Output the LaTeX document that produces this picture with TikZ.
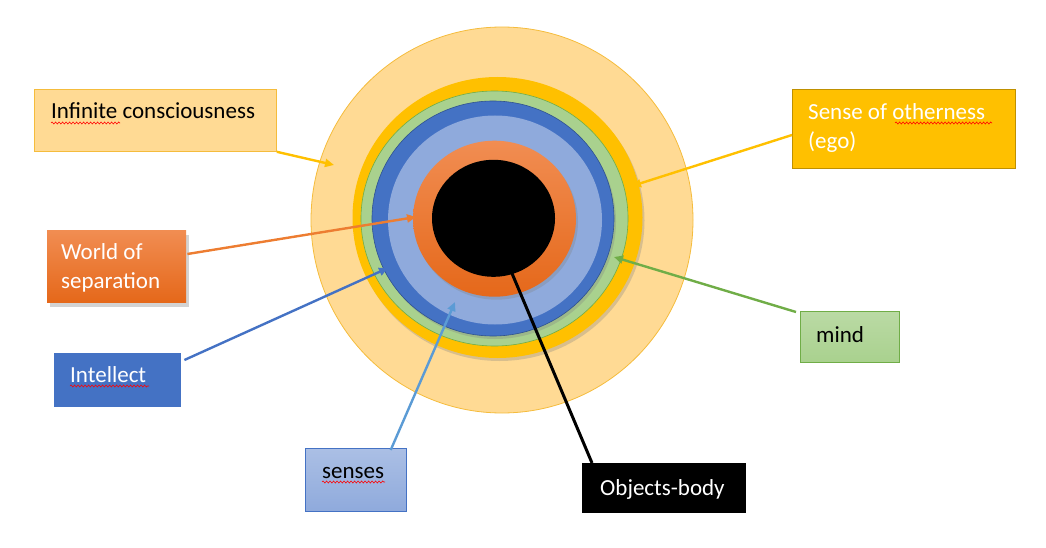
\documentclass[tikz,border=0pt]{standalone}
\usepackage{fontspec}
\setmainfont{Carlito}
\usetikzlibrary{shapes.geometric,arrows.meta,calc,shadows,decorations.pathmorphing}
\definecolor{outerfill}{HTML}{FFDA94}
\definecolor{outerdraw}{HTML}{F5BC3C}
\definecolor{gold}{HTML}{FFC000}
\definecolor{golddark}{HTML}{BF9000}
\definecolor{grn}{HTML}{A9D18E}
\definecolor{grndark}{HTML}{70AD47}
\definecolor{blu}{HTML}{4472C4}
\definecolor{bludark}{HTML}{2F528F}
\definecolor{lblu}{HTML}{8FAADC}
\definecolor{orgtop}{HTML}{F18D52}
\definecolor{orgbot}{HTML}{E5681A}
\definecolor{orgline}{HTML}{ED7D31}
\definecolor{skyline}{HTML}{5B9BD5}
\tikzset{
  ring/.style={ellipse, inner sep=0pt},
  box/.style={rectangle, inner sep=0pt, anchor=north west},
  txt/.style={anchor=base west, inner sep=0pt, font=\fontsize{23}{27}\selectfont},
  conn/.style={line width=2.4pt, -{Triangle[length=9pt,width=8pt]}},
  squig/.style={red, line width=0.6pt, decorate, decoration={snake, amplitude=1pt, segment length=3.5pt}},
  shade/.style={drop shadow={opacity=0.3, shadow xshift=2pt, shadow yshift=-3pt}}
}
\begin{document}
\begin{tikzpicture}[x=1pt,y=-1pt]
\useasboundingbox (0,0) rectangle (1046,548);
% rings
\node[ring, fill=outerfill, draw=outerdraw, line width=0.8pt, minimum width=382pt, minimum height=386pt] (outer) at (502,220) {};
\node[ring, fill=gold, shade, minimum width=290pt, minimum height=281pt] (ego) at (497.5,217.5) {};
\node[ring, fill=grn, draw=grndark, line width=0.6pt, minimum width=267pt, minimum height=255pt] (mindr) at (494.5,218.5) {};
\node[ring, fill=blu, draw=bludark, line width=0.6pt, shade, minimum width=242pt, minimum height=235pt] (intr) at (493,218.5) {};
\node[ring, fill=lblu, minimum width=214pt, minimum height=209pt] (sensr) at (495,220) {};
\node[ring, top color=orgtop, bottom color=orgbot, shade, minimum width=163pt, minimum height=156pt] (worldr) at (494.5,218.7) {};
\node[ring, fill=black, minimum width=123pt, minimum height=117pt] (body) at (493.5,218.3) {};
% arrow tips
\coordinate (tIC) at (334,165);
\coordinate (tSO) at (632,186);
\coordinate (tWS) at (416,217);
\coordinate (tIN) at (388,268);
\coordinate (tMI) at (614,257);
\coordinate (tSE) at (455,302);
\coordinate (tOB) at (511,271);
% boxes
\node[box, fill=outerfill, draw=outerdraw, line width=0.8pt, minimum width=242pt, minimum height=62pt] (ic) at (34,89) {};
\node[box, top color=orgtop, bottom color=orgbot, drop shadow={opacity=0.35, shadow xshift=3pt, shadow yshift=-5pt}, minimum width=139pt, minimum height=72pt] (ws) at (47,230) {};
\node[box, fill=blu, minimum width=127pt, minimum height=54pt] (in) at (54,353) {};
\node[box, fill=gold, draw=golddark, line width=1.4pt, minimum width=223pt, minimum height=79pt] (so) at (792,89) {};
\node[box, top color=grn!80!white, bottom color=grn, draw=grndark, line width=0.7pt, minimum width=99pt, minimum height=51pt] (mi) at (800,311) {};
\node[box, top color=lblu!75!white, bottom color=lblu, draw=blu, line width=0.7pt, minimum width=101pt, minimum height=63pt] (se) at (305,448) {};
\node[box, fill=black, minimum width=164pt, minimum height=50pt] (ob) at (582,463) {};
% texts
\node[txt] (icT) at ($(ic.north west)+(17,30)$) {Infinite consciousness};
\node[txt, white] (wsT1) at ($(ws.north west)+(14,29)$) {World of};
\node[txt, white] (wsT2) at ($(ws.north west)+(14,58)$) {separation};
\node[txt, white] (inT) at ($(in.north west)+(16,29)$) {Intellect};
\node[txt, white] (soT1) at ($(so.north west)+(16,31)$) {Sense of otherness};
\node[txt, white] (soT2) at ($(so.north west)+(16,60)$) {(ego)};
\node[txt] (miT) at ($(mi.north west)+(16,31)$) {mind};
\node[txt] (seT) at ($(se.north west)+(17,30)$) {senses};
\node[txt, white] (obT) at ($(ob.north west)+(18,32)$) {Objects-body};
% spell-check marks
\draw[squig] ($(icT.base west)+(0,4)$) -- ++(69,0);
\draw[squig] ($(inT.base west)+(0,4)$) -- ++(79,0);
\draw[squig] ($(soT1.base west)+(87,3)$) -- ++(97,0);
\draw[squig] ($(seT.base west)+(0,4)$) -- ++(63,0);
% connectors
\draw[conn, gold] (ic.south east) -- (tIC);
\draw[conn, gold] ($(so.north west)+(0,46)$) -- (tSO);
\draw[conn, orgline] ($(ws.north east)+(1,24)$) -- (tWS);
\draw[conn, blu] ($(in.north east)+(3,7)$) -- (tIN);
\draw[conn, grndark] ($(mi.north west)+(-4,1)$) -- (tMI);
\draw[conn, skyline] ($(se.north east)+(-16,2)$) -- (tSE);
\draw[line width=3pt, black] ($(ob.north west)+(10,0)$) -- (tOB);
\end{tikzpicture}
\end{document}
